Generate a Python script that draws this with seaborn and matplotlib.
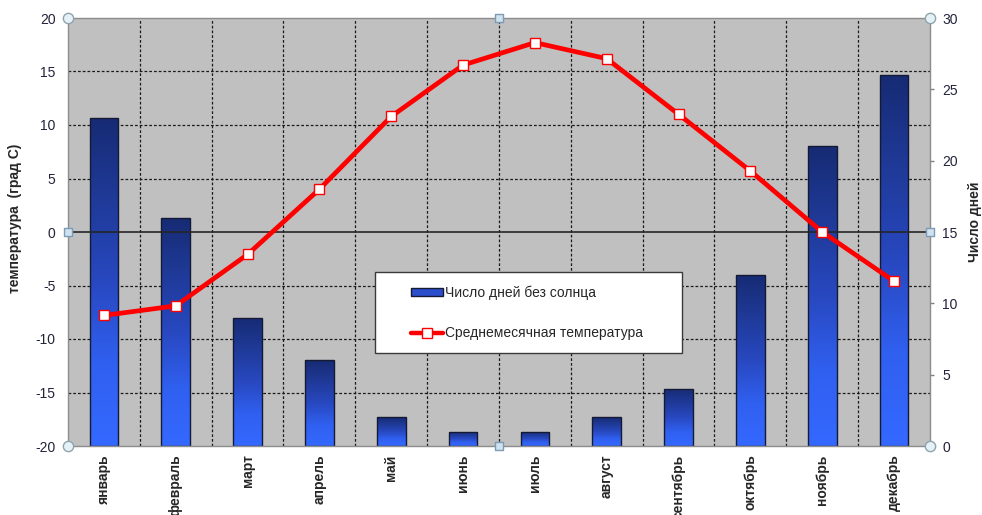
import numpy as np
import pandas as pd
import matplotlib
matplotlib.use("Agg")
import matplotlib.pyplot as plt
import seaborn as sns
from matplotlib.colors import LinearSegmentedColormap
from matplotlib.patches import Rectangle, Patch
from matplotlib.lines import Line2D
from matplotlib.transforms import blended_transform_factory

# --- data -------------------------------------------------------------
months = ["январь", "февраль", "март", "апрель", "май", "июнь",
          "июль", "август", "сентябрь", "октябрь", "ноябрь", "декабрь"]
sunless_days = [23, 16, 9, 6, 2, 1, 1, 2, 4, 12, 21, 26]
mean_temp = [-7.8, -6.9, -2.1, 4.0, 10.8, 15.6, 17.7, 16.2, 11.0, 5.7, 0.0, -4.6]
temp_ticks = [-20, -15, -10, -5, 0, 5, 10, 15, 20]
day_ticks = [0, 5, 10, 15, 20, 25, 30]

bar_label = "Число дней без солнца"
line_label = "Среднемесячная температура"

df = pd.DataFrame({"month": months, "pos": np.arange(len(months)),
                   "days": sunless_days, "temp": mean_temp})

# --- style --------------------------------------------------------------
sns.set_style("white")
plt.rcParams["font.family"] = ["Liberation Sans", "DejaVu Sans"]
plt.rcParams["axes.unicode_minus"] = False

W, H = 982, 515
fig = plt.figure(figsize=(W / 100, H / 100), dpi=100)
ax = fig.add_axes([68 / W, (H - 446) / H, 862 / W, 428 / H])   # temperature (left)
ax2 = ax.twinx()                                              # days (right)

ax.set_zorder(2)
ax2.set_zorder(1)
ax.patch.set_visible(False)
ax2.patch.set_visible(True)
ax2.patch.set_facecolor("#c0c0c0")

tick_color = "#22223a"

# --- grid behind the bars ----------------------------------------------
hgrid = blended_transform_factory(ax2.transAxes, ax.transData)
for t in temp_ticks[1:-1]:
    if t != 0:
        ax2.plot([0, 1], [t, t], transform=hgrid, color="#1a1a1a",
                 lw=0.9, ls=(0, (2.2, 1.6)), zorder=0.5)
for b in np.arange(0.5, len(months) - 0.5, 1):
    ax2.axvline(b, color="#1a1a1a", lw=0.9, ls=(0, (2.2, 1.6)), zorder=0.5)

# --- bars with vertical gradient -----------------------------------------
sns.barplot(data=df, x="pos", y="days", ax=ax2, width=0.4, color="#2a4fcc",
            edgecolor="#141a33", linewidth=1.0, saturation=1, zorder=1)
grad_cmap = LinearSegmentedColormap.from_list(
    "bar_grad", ["#3468ff", "#3060f0", "#2848c0", "#1f3a98", "#172b74"])
grad = np.linspace(0, 1, 256).reshape(-1, 1)
for bar in ax2.containers[0]:
    x0, y0 = bar.get_x(), bar.get_y()
    w, h = bar.get_width(), bar.get_height()
    im = ax2.imshow(grad, extent=(x0, x0 + w, y0, y0 + h), origin="lower",
                    aspect="auto", cmap=grad_cmap, zorder=1.05)
    im.set_clip_path(bar)
    bar.set_facecolor("none")
    bar.set_zorder(1.1)

ax2.set_ylim(0, 30)
ax2.set_yticks(day_ticks)
ax2.set_ylabel("")
ax2.set_xlabel("")
ax2.tick_params(axis="y", right=True, length=3, width=1, color="#808080",
                direction="out", pad=6, labelsize=10, labelcolor=tick_color)
for s in ax2.spines.values():
    s.set_visible(False)

# --- temperature line -----------------------------------------------------
ax.axhline(0, color="#262626", lw=1.2, zorder=1)
sns.lineplot(data=df, x="pos", y="temp", ax=ax, color="#ff0000", lw=3.4,
             marker="s", markersize=7.5, markerfacecolor="white",
             markeredgecolor="#ff0000", markeredgewidth=1.0, zorder=3)
ax.set_ylim(-20, 20)
ax.set_yticks(temp_ticks)
ax.set_xlim(-0.5, len(months) - 0.5)
ax.set_xticks(df["pos"])
ax.set_xticklabels(months, rotation=90, fontweight="bold", fontsize=10,
                   va="top", ha="center")
ax.set_xlabel("")
ax.set_ylabel("")
ax.tick_params(axis="y", left=False, length=0, pad=9, labelsize=10,
               labelcolor=tick_color)
ax.tick_params(axis="x", bottom=False, length=0, pad=6)
for s in ax.spines.values():
    s.set_visible(True)
    s.set_color("#8c8c8c")
    s.set_linewidth(1.0)

# --- selection handles on the plot frame --------------------------------
ax.scatter([0, 1, 0, 1], [0, 0, 1, 1], transform=ax.transAxes, marker="o",
           s=55, facecolor="#e4f2f7", edgecolor="#8fa3ad", linewidth=1.0,
           clip_on=False, zorder=10)
ax.scatter([0.5, 0.5, 0, 1], [0, 1, 0.5, 0.5], transform=ax.transAxes,
           marker="s", s=28, facecolor="#cfe2f0", edgecolor="#7d9bb3",
           linewidth=1.0, clip_on=False, zorder=10)

# --- axis titles -----------------------------------------------------------
fig.text(15 / W, 1 - 218 / H, "температура  (град С)", rotation=90,
         fontweight="bold", fontsize=10, ha="center", va="center")
fig.text(975 / W, 1 - 222 / H, "Число дней", rotation=90,
         fontweight="bold", fontsize=10, ha="center", va="center")

# --- legend ------------------------------------------------------------------
box = Rectangle((375 / W, 1 - 353 / H), 307 / W, 81 / H, transform=fig.transFigure,
                facecolor="white", edgecolor="#3a3a3a", lw=1.0, zorder=4.5,
                clip_on=False)
ax.add_artist(box)
handles = [
    Patch(facecolor="#2b4fcc", edgecolor="#141a33", lw=1.0),
    Line2D([], [], color="#ff0000", lw=3.2, marker="s", markersize=6.5,
           markerfacecolor="white", markeredgecolor="#ff0000", markeredgewidth=1.0),
]
leg = ax.legend(handles, [bar_label, line_label], loc="center",
                bbox_to_anchor=(527 / W, 1 - 313 / H), bbox_transform=fig.transFigure,
                frameon=False, fontsize=10, handlelength=2.3, handletextpad=0.15,
                labelspacing=1.9, handleheight=0.5)
leg.set_zorder(5)

fig.savefig("out.png", dpi=100, facecolor="white")
